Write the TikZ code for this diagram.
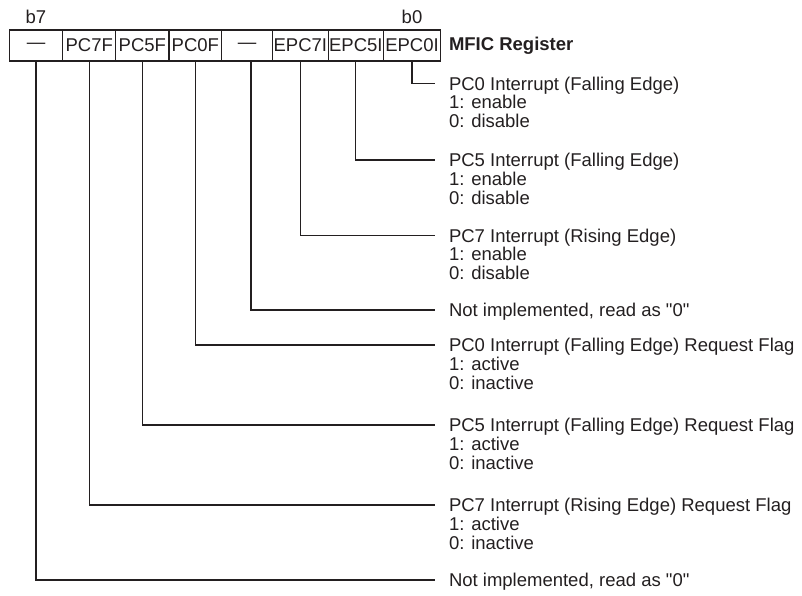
\documentclass[tikz,border=0pt]{standalone}
\usepackage{fontspec}
\newfontfamily\helv{Liberation Sans}
\definecolor{ink}{RGB}{35,31,32}
\newcommand\mystack[1]{\begin{tabular}[t]{@{}l@{}}#1\end{tabular}}
\begin{document}
\begin{tikzpicture}[x=1pt,y=-1pt,
  every node/.style={font=\helv\fontsize{18.5}{17.9}\selectfont, text=ink, inner sep=0pt, outer sep=0pt},
  cell/.style={draw=ink, line width=1.1pt, minimum height=31pt, anchor=west},
  desc/.style={anchor=base west},
  conn/.style={draw=ink, line width=1.1pt}]
\useasboundingbox (0,0) rectangle (802,596);
% register cells (b7 ... b0)
\node[cell, minimum width=53.4pt] (c7) at (9.3,45.5) {\textemdash};
\node[cell, minimum width=53pt]   (c6) at (62.7,45.5) {PC7F};
\node[cell, minimum width=53.3pt] (c5) at (115.7,45.5) {PC5F};
\node[cell, minimum width=52.7pt] (c4) at (169,45.5) {PC0F};
\node[cell, minimum width=50.6pt] (c3) at (221.7,45.5) {\textemdash};
\node[cell, minimum width=56pt]   (c2) at (272.3,45.5) {EPC7I};
\node[cell, minimum width=55pt]   (c1) at (328.3,45.5) {EPC5I};
\node[cell, minimum width=57.4pt] (c0) at (383.3,45.5) {EPC0I};
\node[anchor=base] (b7) at (c7.north |- 0,23.3) {b7};
\node[anchor=base] (b0) at (c0.north |- 0,23.3) {b0};
\node[anchor=west, font=\helv\fontsize{18.5}{17.9}\selectfont\bfseries] (reg) at (449,45.5) {MFIC Register};
% end points of connectors
\coordinate (e0) at (435,83.5);
\coordinate (e1) at (435,160);
\coordinate (e2) at (435,235.5);
\coordinate (e3) at (435,310);
\coordinate (e4) at (435,345);
\coordinate (e5) at (435,425);
\coordinate (e6) at (435,505);
\coordinate (e7) at (435,580);
% descriptions
\node[desc] (t0) at (449,90.1) {\mystack{PC0 Interrupt (Falling Edge)\\1: enable\\0: disable}};
\node[desc] (t1) at (449,166.6) {\mystack{PC5 Interrupt (Falling Edge)\\1: enable\\0: disable}};
\node[desc] (t2) at (449,242.1) {\mystack{PC7 Interrupt (Rising Edge)\\1: enable\\0: disable}};
\node[desc] (t3) at (449,316.6) {Not implemented, read as "0"};
\node[desc] (t4) at (449,351.6) {\mystack{PC0 Interrupt (Falling Edge) Request Flag\\1: active\\0: inactive}};
\node[desc] (t5) at (449,431.6) {\mystack{PC5 Interrupt (Falling Edge) Request Flag\\1: active\\0: inactive}};
\node[desc] (t6) at (449,511.6) {\mystack{PC7 Interrupt (Rising Edge) Request Flag\\1: active\\0: inactive}};
\node[desc] (t7) at (449,586.6) {Not implemented, read as "0"};
% connectors
\draw[conn] (c0.south) |- (e0);
\draw[conn] (c1.south) |- (e1);
\draw[conn] (c2.south) |- (e2);
\draw[conn] ([xshift=4pt]c3.south) |- (e3);
\draw[conn] (c4.south) |- (e4);
\draw[conn] (c5.south) |- (e5);
\draw[conn] (c6.south) |- (e6);
\draw[conn] (c7.south) |- (e7);
\end{tikzpicture}
\end{document}
